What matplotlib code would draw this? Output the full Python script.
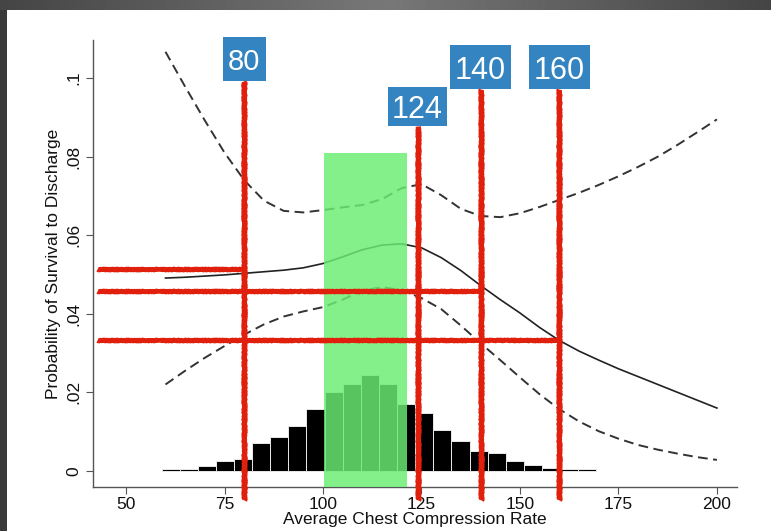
import numpy as np
import matplotlib.pyplot as plt
from matplotlib.patches import Rectangle

plt.rcParams['font.family'] = ['Liberation Sans', 'DejaVu Sans']

# fitted probability of survival vs. compression rate
rate = [60, 65, 70, 75, 80, 85, 90, 95, 100, 105, 110, 115, 120, 125, 130,
        135, 140, 145, 150, 155, 160, 165, 170, 175, 180, 185, 190, 195, 200]
p_fit = [0.0491, 0.0493, 0.0496, 0.0499, 0.0503, 0.0507, 0.0511, 0.0517,
         0.0528, 0.0545, 0.0563, 0.0575, 0.0578, 0.0568, 0.0543, 0.0510,
         0.0472, 0.0436, 0.0402, 0.0365, 0.0332, 0.0305, 0.0282, 0.0260,
         0.0240, 0.0220, 0.0200, 0.0180, 0.0160]
p_upper = [0.1067, 0.0978, 0.0892, 0.0810, 0.0740, 0.0688, 0.0662, 0.0658,
           0.0664, 0.0671, 0.0677, 0.0692, 0.0720, 0.0730, 0.0702, 0.0667,
           0.0649, 0.0646, 0.0656, 0.0672, 0.0690, 0.0708, 0.0728, 0.0750,
           0.0774, 0.0800, 0.0830, 0.0862, 0.0895]
p_lower = [0.0220, 0.0255, 0.0288, 0.0318, 0.0347, 0.0373, 0.0393, 0.0406,
           0.0417, 0.0436, 0.0459, 0.0468, 0.0460, 0.0440, 0.0412, 0.0370,
           0.0325, 0.0282, 0.0238, 0.0195, 0.0157, 0.0126, 0.0101, 0.0082,
           0.0066, 0.0054, 0.0044, 0.0035, 0.0028]

# distribution of rates (scaled histogram)
hist_start = 59.0
hist_width = 4.6
hist_heights = [0.0005, 0.0006, 0.0012, 0.0025, 0.0031, 0.0071, 0.0087, 0.0115,
                0.0157, 0.0201, 0.0222, 0.0245, 0.0221, 0.0170, 0.0148, 0.0105,
                0.0076, 0.0051, 0.0046, 0.0024, 0.0014, 0.0008, 0.0005, 0.0004]

# recommended range
band_lo, band_hi, band_top = 100.3, 121.3, 0.0809

# marked rates and their read-off probabilities
marks = [80, 124, 140, 160]
mark_labels = ['80', '124', '140', '160']
hlines = [0.0513, 0.0458, 0.0332]
hline_ends = [80, 140, 160]

fig = plt.figure(figsize=(7.71, 5.31), dpi=100)
fig.patch.set_facecolor('#3a3a3a')

# white sheet and top strip gradient
bg = fig.add_axes([0, 0, 1, 1], zorder=-5)
bg.axis('off')
bg.add_patch(Rectangle((7, 10), 771, 531, fc='white', ec='none'))
grad = np.abs(np.linspace(-1, 1, 400))
bg.imshow((0.47 - 0.2 * grad)[None, :], cmap='gray', vmin=0, vmax=1,
          aspect='auto', extent=(0, 771, 10, 0))
bg.set_xlim(0, 771)
bg.set_ylim(531, 0)

ax = fig.add_axes([93 / 771, 44 / 531, (737 - 93) / 771, (487 - 40) / 531])
ax.set_facecolor('none')
ax.set_xlim(41.6, 205.1)
ax.set_ylim(-0.0041, 0.1097)

edges = hist_start + hist_width * np.arange(len(hist_heights))
ax.bar(edges, hist_heights, width=hist_width, align='edge', color='black',
       edgecolor='#e8e8e8', linewidth=0.7, zorder=2)

ax.plot(rate, p_upper, color='#333333', lw=1.4, ls=(0, (5, 2.8)), zorder=3)
ax.plot(rate, p_lower, color='#333333', lw=1.4, ls=(0, (5, 2.8)), zorder=3)
ax.plot(rate, p_fit, color='#222222', lw=1.2, zorder=3)

ax.add_patch(Rectangle((band_lo, -0.0041), band_hi - band_lo, band_top + 0.0041,
                       fc=(0.42, 0.93, 0.45), alpha=0.83, ec='none',
                       zorder=4, clip_on=False))

red = '#e0200c'
box_c = '#3384c0'
# label boxes sit on top of each marker line
line_top = {80: 0.0993, 124: 0.0878, 140: 0.0972, 160: 0.0972}
box_w = {80: 10.8, 124: 15.1, 140: 15.5, 160: 15.4}
box_h = {80: 0.0112, 124: 0.0100, 140: 0.0112, 160: 0.0112}
box_fs = {80: 21, 124: 22, 140: 22, 160: 22}

for y, xe in zip(hlines, hline_ends):
    ln, = ax.plot([42.5, xe], [y, y], color=red, lw=3.4, zorder=5,
                  clip_on=False, solid_capstyle='butt')
    ln.set_sketch_params(0.6, 3, 2)

for m, lab in zip(marks, mark_labels):
    ln, = ax.plot([m, m], [-0.0075, line_top[m]], color=red, lw=3.8,
                  zorder=5, clip_on=False, solid_capstyle='butt')
    ln.set_sketch_params(0.6, 3, 2)
    ax.add_patch(Rectangle((m - box_w[m] / 2, line_top[m]), box_w[m], box_h[m],
                           fc=box_c, ec='none', zorder=6, clip_on=False))
    ax.text(m, line_top[m] + box_h[m] / 2, lab, color='white',
            fontsize=box_fs[m], ha='center', va='center_baseline',
            zorder=7, clip_on=False)

for s in ['top', 'right']:
    ax.spines[s].set_visible(False)
for s in ['left', 'bottom']:
    ax.spines[s].set_color('#555555')
    ax.spines[s].set_linewidth(1)

ax.set_xticks([50, 75, 100, 125, 150, 175, 200])
ax.set_yticks([0, 0.02, 0.04, 0.06, 0.08, 0.1])
ax.set_yticklabels(['0', '.02', '.04', '.06', '.08', '.1'], rotation=90,
                   va='center')
ax.tick_params(axis='both', length=5, color='#555555', labelsize=12.5,
               labelcolor='#111111')
ax.tick_params(axis='x', pad=2)
ax.set_xlabel('Average Chest Compression Rate', fontsize=12.5, labelpad=0,
              color='#111111')
ax.set_ylabel('Probability of Survival to Discharge', fontsize=12.5,
              labelpad=4, color='#111111')

fig.savefig('out.png', dpi=100, facecolor=fig.get_facecolor())
